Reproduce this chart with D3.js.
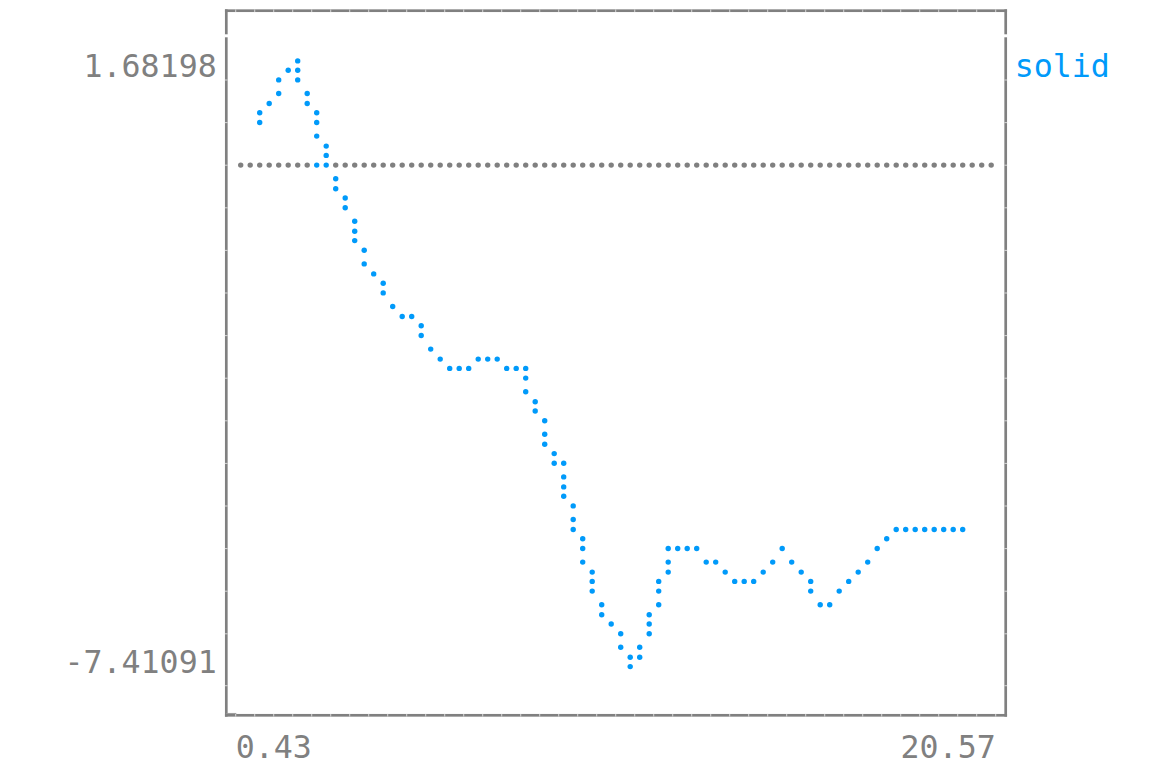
<!DOCTYPE html>
<html>
<head>
<meta charset="utf-8">
<script src="https://cdn.jsdelivr.net/npm/d3@7"></script>
<style>
  html, body { margin: 0; padding: 0; background: #ffffff; }
  svg { display: block; }
  text { font-family: "DejaVu Sans Mono", "Liberation Mono", monospace; }
</style>
</head>
<body>
<svg id="chart" width="1174" height="768"></svg>
<script>
// ---------------- data ----------------
const seriesName = "solid";
const xValues = [1, 2, 3, 4, 5, 6, 7, 8, 9, 10, 11, 12, 13, 14, 15, 16, 17, 18, 19, 20];
const yValues = [0.5302, 1.42463, -0.2275, -1.5460, -2.2355, -2.9099, -2.8342, -2.9099, -4.3648, -6.2895,
                 -7.15356, -5.4711, -5.6075, -6.0167, -5.5393, -6.3273, -5.8575, -5.2741, -5.2286, -5.2135];
const xLimits = [0.43, 20.57];
const yLimits = [-7.41091, 1.68198];
const xTickLabels = ["0.43", "20.57"];
const yTickLabels = ["1.68198", "-7.41091"];
const zeroLineValue = [0];

// ---------------- layout ----------------
const W = 1174, H = 768;
const gray = "#808080", blue = "#009AFA";
const nCols = 40, nRows = 15;          // character cells of the braille canvas
const pxW = nCols * 2, pxH = nRows * 4; // braille dot resolution
const cellW = 19.0, cellH = 42.6;
const colStart = 235.7;                 // left edge of first canvas cell
const dotRowTop = 50.9;                 // first dot row of first canvas cell
const dotXOff = [5.0, 14.5];
const dotYOff = [0, 10, 19.3, 29];
const baseline0 = 76.7;                 // text baseline of first canvas row

const svg = d3.select("#chart");
svg.append("rect").attr("width", W).attr("height", H).attr("fill", "#fff");

// scales: data -> braille pixel space
const xPix = d3.scaleLinear().domain(xLimits).range([0, pxW]);
const yPix = d3.scaleLinear().domain(yLimits).range([pxH, 0]);
// braille pixel -> screen
const dotX = i => colStart + Math.floor(i / 2) * cellW + dotXOff[i % 2];
const dotY = j => dotRowTop + Math.floor(j / 4) * cellH + dotYOff[j % 4];

// raster grid
const dots = new Map();        // key "i,j" -> series index
const cellColor = new Map();   // key "cx,cy" -> color
function setPixel(px, py, color) {
  if (px < 0 || px > pxW || py < 0 || py > pxH) return;
  if (px === pxW) px -= 1;
  if (py === pxH) py -= 1;
  dots.set(px + "," + py, {i: px, j: py});
  const ck = Math.floor(px / 2) + "," + Math.floor(py / 4);
  cellColor.set(ck, color);
}
function drawLine(x1, y1, x2, y2, color) {
  const px1 = xPix(x1), px2 = xPix(x2), py1 = yPix(y1), py2 = yPix(y2);
  const dx = px2 - px1, dy = py2 - py1;
  const nsteps = Math.max(Math.abs(dx), Math.abs(dy));
  const len = Math.floor(nsteps);
  const ix = nsteps === 0 ? 0 : dx / nsteps, iy = nsteps === 0 ? 0 : dy / nsteps;
  let cx = px1, cy = py1;
  setPixel(Math.floor(cx), Math.floor(cy), color);
  for (let s = 1; s <= len; s++) {
    cx += ix; cy += iy;
    setPixel(Math.floor(cx), Math.floor(cy), color);
  }
}

// zero line (gray), then series (blue)
zeroLineValue.forEach(v => drawLine(xLimits[0], v, xLimits[1], v, gray));
for (let k = 0; k < xValues.length - 1; k++) {
  drawLine(xValues[k], yValues[k], xValues[k + 1], yValues[k + 1], blue);
}

const dotData = Array.from(dots.values()).map(d => ({
  ...d, color: cellColor.get(Math.floor(d.i / 2) + "," + Math.floor(d.j / 4))
}));
svg.append("g").selectAll("circle").data(dotData).join("circle")
  .attr("cx", d => dotX(d.i)).attr("cy", d => dotY(d.j))
  .attr("r", 2.7).attr("fill", d => d.color);

// ---------------- frame (box drawing) ----------------
const bLeft = 226.3, bRight = 1005.7, bTop = 10.7, bBottom = 715.3, bw = 2.7;
const frame = svg.append("g");
frame.append("rect").attr("x", bLeft - bw / 2).attr("y", bTop - bw / 2)
  .attr("width", bw).attr("height", bBottom - bTop + bw).attr("fill", gray);
frame.append("rect").attr("x", bRight - bw / 2).attr("y", bTop - bw / 2)
  .attr("width", bw).attr("height", bBottom - bTop + bw).attr("fill", gray);
frame.append("rect").attr("x", bLeft - bw / 2).attr("y", bTop - bw / 2)
  .attr("width", bRight - bLeft + bw).attr("height", bw).attr("fill", gray);
frame.append("rect").attr("x", bLeft - bw / 2).attr("y", bBottom - bw / 2)
  .attr("width", bRight - bLeft + bw).attr("height", bw).attr("fill", gray);
// small corner nib at bottom-left
frame.append("rect").attr("x", bLeft).attr("y", bBottom - bw / 2 - 1)
  .attr("width", 10).attr("height", 1).attr("fill", "#9a9a9a");

// seams between glyph cells
const seamColor = "#d4d4d4";
const hSeams = d3.range(0, nCols + 1).map(c => colStart + c * cellW);
frame.selectAll(".hs").data(hSeams).join("rect")
  .attr("x", d => d - 0.5).attr("y", bTop - bw / 2).attr("width", 1).attr("height", bw).attr("fill", seamColor);
frame.selectAll(".hb").data(hSeams).join("rect")
  .attr("x", d => d - 0.5).attr("y", bBottom - bw / 2).attr("width", 1).attr("height", bw).attr("fill", seamColor);
const vSeams = d3.range(1, nRows).map(r => 37.4 + r * cellH).concat([685.7]);
[bLeft, bRight].forEach(bx => {
  frame.append("g").selectAll("rect").data(vSeams).join("rect")
    .attr("x", bx - bw / 2).attr("y", d => d - 0.5).attr("width", bw).attr("height", 1).attr("fill", seamColor);
  frame.append("rect").attr("x", bx - bw / 2 - 0.5).attr("y", 34.3).attr("width", bw + 1).attr("height", 3).attr("fill", "#fff");
});

// ---------------- labels ----------------
const fontSize = 31.6;
const labels = svg.append("g").attr("font-size", fontSize);
// y labels at first and last canvas rows
labels.selectAll(".yl").data(yTickLabels).join("text")
  .attr("x", colStart - cellW)
  .attr("y", (d, k) => baseline0 + (k === 0 ? 0 : (nRows - 1)) * cellH)
  .attr("text-anchor", "end").attr("fill", gray).text(d => d);
// x labels below the frame, at left/right canvas edges
const xLabelBaseline = baseline0 + (nRows + 1) * cellH;
labels.selectAll(".xl").data(xTickLabels).join("text")
  .attr("x", (d, k) => k === 0 ? colStart : colStart + nCols * cellW)
  .attr("y", xLabelBaseline)
  .attr("text-anchor", (d, k) => k === 0 ? "start" : "end")
  .attr("fill", gray).text(d => d);
// legend / series name
labels.append("text").attr("x", colStart + (nCols + 1) * cellW).attr("y", baseline0)
  .attr("fill", blue).text(seriesName);
</script>
</body>
</html>
